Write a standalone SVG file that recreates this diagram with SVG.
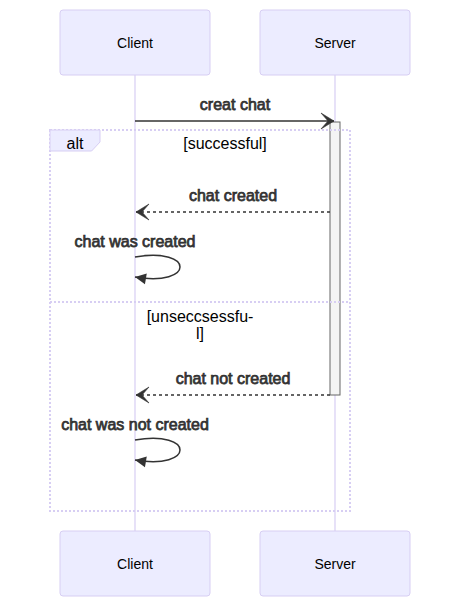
<svg xmlns="http://www.w3.org/2000/svg" width="460" height="607" viewBox="0 0 460 607">
<style>
.actor{fill:#ECECFF;stroke:#d7cef3;stroke-width:1}
.atext{font-family:"Liberation Sans",Arial,sans-serif;font-size:14px;fill:#000;text-anchor:middle}
.life{stroke:#d7cef3;stroke-width:1.2}
.msg{stroke:#333;stroke-width:1.5;fill:none}
.dash{stroke-dasharray:3,3}
.mtext{font-family:"Liberation Sans",Arial,sans-serif;font-size:16px;fill:#333;stroke:#333;stroke-width:0.75;text-anchor:middle}
.ltext{font-family:"Liberation Sans",Arial,sans-serif;font-size:16px;fill:#000;text-anchor:middle}
.loop{stroke:#d7cef3;stroke-width:2;stroke-dasharray:2,2;fill:none}
.act{fill:#f4f4f4;stroke:#666;stroke-width:1}
</style>
<defs>
<marker id="stealth" markerUnits="userSpaceOnUse" viewBox="-14 -9 16 18" refX="0" refY="0" markerWidth="16" markerHeight="18" orient="auto">
<path d="M0,0 L-13,-8 L-6,0 L-13,8 z" fill="#333" stroke="#333" stroke-width="0.6" stroke-linejoin="miter"/>
</marker>
<marker id="tri" markerUnits="userSpaceOnUse" viewBox="-12 -7 14 14" refX="0" refY="0" markerWidth="14" markerHeight="14" orient="auto">
<path d="M0,0 L-11,-5.5 L-11,5.5 z" fill="#333"/>
</marker>
</defs>

<g id="lifelines">
<line class="life" x1="135" y1="75" x2="135" y2="531"/>
<line class="life" x1="335" y1="75" x2="335" y2="531"/>
</g>

<g id="actor-client-top">
<rect class="actor" x="60" y="10" width="150" height="65" rx="3"/>
<text class="atext" x="135" y="48">Client</text>
</g>
<g id="actor-server-top">
<rect class="actor" x="260" y="10" width="150" height="65" rx="3"/>
<text class="atext" x="335" y="48">Server</text>
</g>
<g id="actor-client-bottom">
<rect class="actor" x="60" y="531" width="150" height="65" rx="3"/>
<text class="atext" x="135" y="569">Client</text>
</g>
<g id="actor-server-bottom">
<rect class="actor" x="260" y="531" width="150" height="65" rx="3"/>
<text class="atext" x="335" y="569">Server</text>
</g>

<g id="activation">
<rect class="act" x="330" y="122" width="10" height="273"/>
</g>

<g id="alt-frame">
<rect class="loop" x="50" y="130" width="300" height="381"/>
<line class="loop" x1="50" y1="302" x2="350" y2="302"/>
<polygon points="50,130 100,130 100,142 91.6,151 50,151" fill="#ECECFF" stroke="#d7cef3" stroke-width="1"/>
<text class="ltext" x="75" y="148.5">alt</text>
<text class="ltext" x="225" y="148.5">[successful]</text>
<text class="ltext" x="200" y="321.5">[unseccsessfu-</text>
<text class="ltext" x="200" y="338.5">l]</text>
</g>

<g id="connectors">
<text class="mtext" x="235" y="110">creat chat</text>
<line class="msg" x1="135" y1="121" x2="334" y2="121" marker-end="url(#stealth)"/>

<text class="mtext" x="233" y="200.5">chat created</text>
<line class="msg dash" x1="330" y1="212" x2="136" y2="212" marker-end="url(#stealth)"/>

<text class="mtext" x="135" y="247">chat was created</text>
<path class="msg" d="M135,257 C195,247 195,287 135,277" marker-end="url(#tri)"/>

<text class="mtext" x="233" y="383.5">chat not created</text>
<line class="msg dash" x1="330" y1="395" x2="136" y2="395" marker-end="url(#stealth)"/>

<text class="mtext" x="135" y="430">chat was not created</text>
<path class="msg" d="M135,440 C195,430 195,470 135,460" marker-end="url(#tri)"/>
</g>
</svg>
